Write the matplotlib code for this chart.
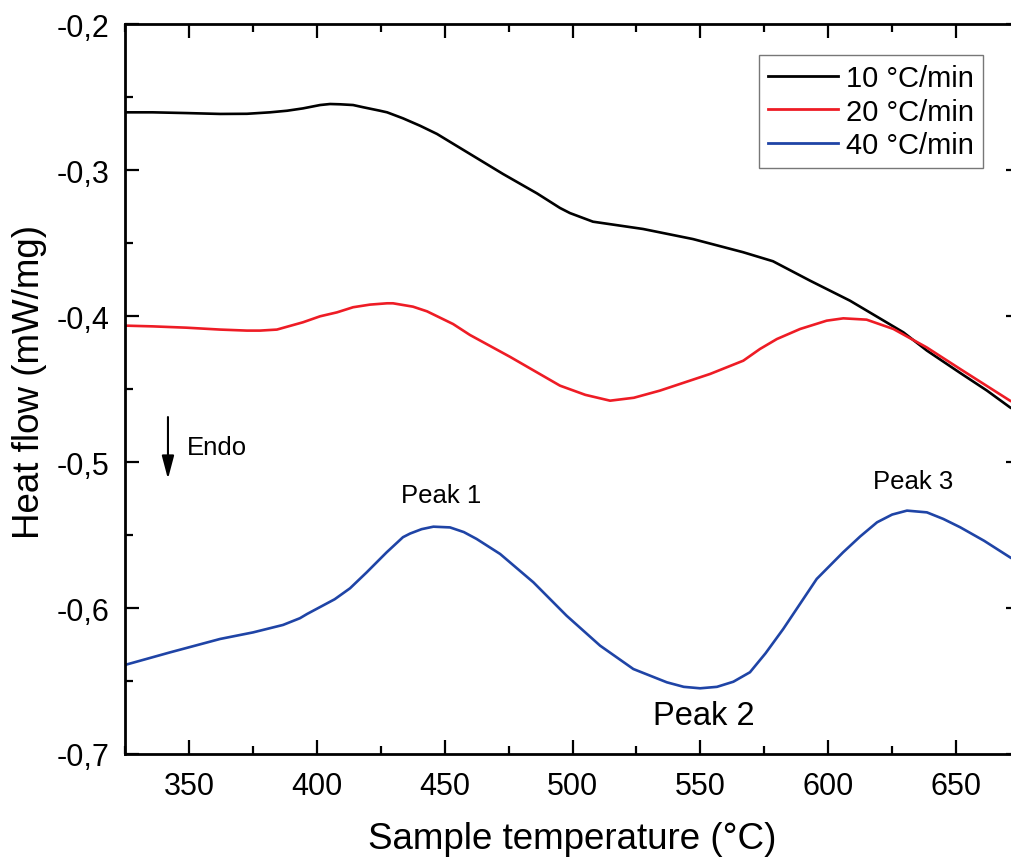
import matplotlib
matplotlib.use("Agg")
import matplotlib.pyplot as plt
from matplotlib.ticker import MultipleLocator, FuncFormatter

plt.rcParams['font.family'] = ['Liberation Sans', 'DejaVu Sans']

# ---- data ----
t_10 = [325, 335.8, 349.0, 362.2, 372.7, 381.7, 388.4, 394.6, 401.3, 405.2, 409.1,
        414.2, 418.1, 424.7, 427.5, 433.7, 440.4, 447.0, 453.3, 459.9, 472.8,
        486.1, 495.1, 499.0, 508.0, 527.6, 547.1, 566.7, 578.4, 592.9, 608.5,
        629.4, 638.6, 651.6, 662.0, 671.1, 672.5]
hf_10 = [-0.2605, -0.2605, -0.2610, -0.2616, -0.2615, -0.2605, -0.2594, -0.2578,
         -0.2555, -0.2548, -0.2550, -0.2555, -0.2570, -0.2594, -0.2605, -0.2646,
         -0.2697, -0.2753, -0.2820, -0.2890, -0.3027, -0.3160, -0.3260, -0.3295,
         -0.3354, -0.3404, -0.3473, -0.3563, -0.3625, -0.3758, -0.3895, -0.4112,
         -0.4237, -0.4390, -0.4510, -0.4626, -0.4640]

t_20 = [325, 335.8, 349.0, 362.2, 372.7, 377.8, 384.4, 394.6, 401.3, 407.9, 414.2,
        420.8, 427.5, 429.8, 437.6, 443.1, 453.3, 459.9, 475.6, 485.0, 495.1,
        505.0, 514.7, 524.0, 534.2, 553.8, 566.8, 573.3, 579.9, 589.0, 599.4,
        605.9, 615.0, 625.5, 638.5, 651.6, 671.1, 672.5]
hf_20 = [-0.4066, -0.4071, -0.4080, -0.4093, -0.4100, -0.4100, -0.4093, -0.4043,
         -0.4002, -0.3975, -0.3940, -0.3922, -0.3913, -0.3913, -0.3936, -0.3968,
         -0.4055, -0.4130, -0.4280, -0.4375, -0.4477, -0.4540, -0.4580, -0.4560,
         -0.4511, -0.4397, -0.4306, -0.4226, -0.4158, -0.4089, -0.4032, -0.4016,
         -0.4025, -0.4089, -0.4215, -0.4363, -0.4580, -0.4592]

t_40 = [325, 342.6, 362.2, 375.1, 386.8, 393.4, 396.2, 407.0, 413.0, 419.5, 427.3,
        433.7, 436.5, 441.0, 445.6, 452.1, 457.5, 462.5, 471.7, 484.7, 497.7,
        510.8, 523.8, 536.9, 543.5, 549.9, 556.5, 562.9, 569.4, 575.5, 582.4,
        595.5, 605.8, 612.5, 619.1, 625.0, 630.8, 638.6, 645.0, 651.6, 661.0,
        671.1, 672.5]
hf_40 = [-0.6390, -0.6304, -0.6212, -0.6167, -0.6116, -0.6070, -0.6041, -0.5940,
         -0.5865, -0.5756, -0.5619, -0.5515, -0.5490, -0.5460, -0.5443, -0.5448,
         -0.5480, -0.5527, -0.5630, -0.5824, -0.6053, -0.6258, -0.6418, -0.6509,
         -0.6540, -0.6550, -0.6540, -0.6505, -0.6440, -0.6310, -0.6144, -0.5801,
         -0.5619, -0.5510, -0.5413, -0.5360, -0.5333, -0.5345, -0.5390, -0.5447,
         -0.5540, -0.5653, -0.5667]

labels = ['10 °C/min', '20 °C/min', '40 °C/min']
colors = ['#000000', '#EE1C25', '#1F44A6']

x_ticks = [350, 400, 450, 500, 550, 600, 650]
y_ticks = [-0.7, -0.6, -0.5, -0.4, -0.3, -0.2]

# ---- figure ----
fig = plt.figure(figsize=(10.12, 8.62), dpi=100)
W, H = 1012, 862
ax = fig.add_axes([125 / W, 107 / H, (1020 - 125) / W, (755 - 25) / H])

for t, v, lab, c in zip([t_10, t_20, t_40], [hf_10, hf_20, hf_40], labels, colors):
    ax.plot(t, v, color=c, lw=1.9, label=lab, solid_joinstyle='round')

ax.set_xlim(325, 675)
ax.set_ylim(-0.7, -0.2)
ax.set_xticks(x_ticks)
ax.set_yticks(y_ticks)
ax.xaxis.set_minor_locator(MultipleLocator(25))
ax.yaxis.set_minor_locator(MultipleLocator(0.05))
ax.yaxis.set_major_formatter(FuncFormatter(lambda v, p: f"{v:.1f}".replace('.', ',')))

for s in ax.spines.values():
    s.set_linewidth(2.0)

ax.tick_params(which='both', direction='in', top=True, right=True, width=1.6)
ax.tick_params(which='major', length=10, labelsize=22)
ax.tick_params(axis='y', which='major', pad=11.5)
ax.tick_params(axis='x', which='major', pad=12)
ax.tick_params(which='minor', length=6)

ax.set_xlabel('Sample temperature (°C)', fontsize=26.5, labelpad=15)
ax.set_ylabel('Heat flow (mW/mg)', fontsize=26.5)
ax.yaxis.set_label_coords((47 - 125) / 895, (755 - 382) / 730)

leg = ax.legend(loc='upper right', bbox_to_anchor=(983 / W, 1 - 56 / H),
                bbox_transform=fig.transFigure, borderaxespad=0,
                fontsize=21, frameon=True, fancybox=False, handlelength=2.4,
                handletextpad=0.3, labelspacing=0.2, borderpad=0.3)
leg.get_frame().set_edgecolor('#555555')
leg.get_frame().set_linewidth(1.0)
for line in leg.get_lines():
    line.set_linewidth(2.0)

ax.text(448.6, -0.5274, 'Peak 1', fontsize=18.5, ha='center', va='baseline')
ax.text(551.4, -0.6795, 'Peak 2', fontsize=23.5, ha='center', va='baseline')
ax.text(633.2, -0.5178, 'Peak 3', fontsize=18.5, ha='center', va='baseline')
ax.text(349.2, -0.4945, 'Endo', fontsize=18.5, ha='left', va='baseline')
ax.annotate('', xy=(341.8, -0.5116), xytext=(341.8, -0.4692),
            arrowprops=dict(arrowstyle='-|>,head_length=1.4,head_width=0.37',
                            color='black', lw=1.5, shrinkA=0, shrinkB=0))

fig.savefig('out.png', dpi=100)
